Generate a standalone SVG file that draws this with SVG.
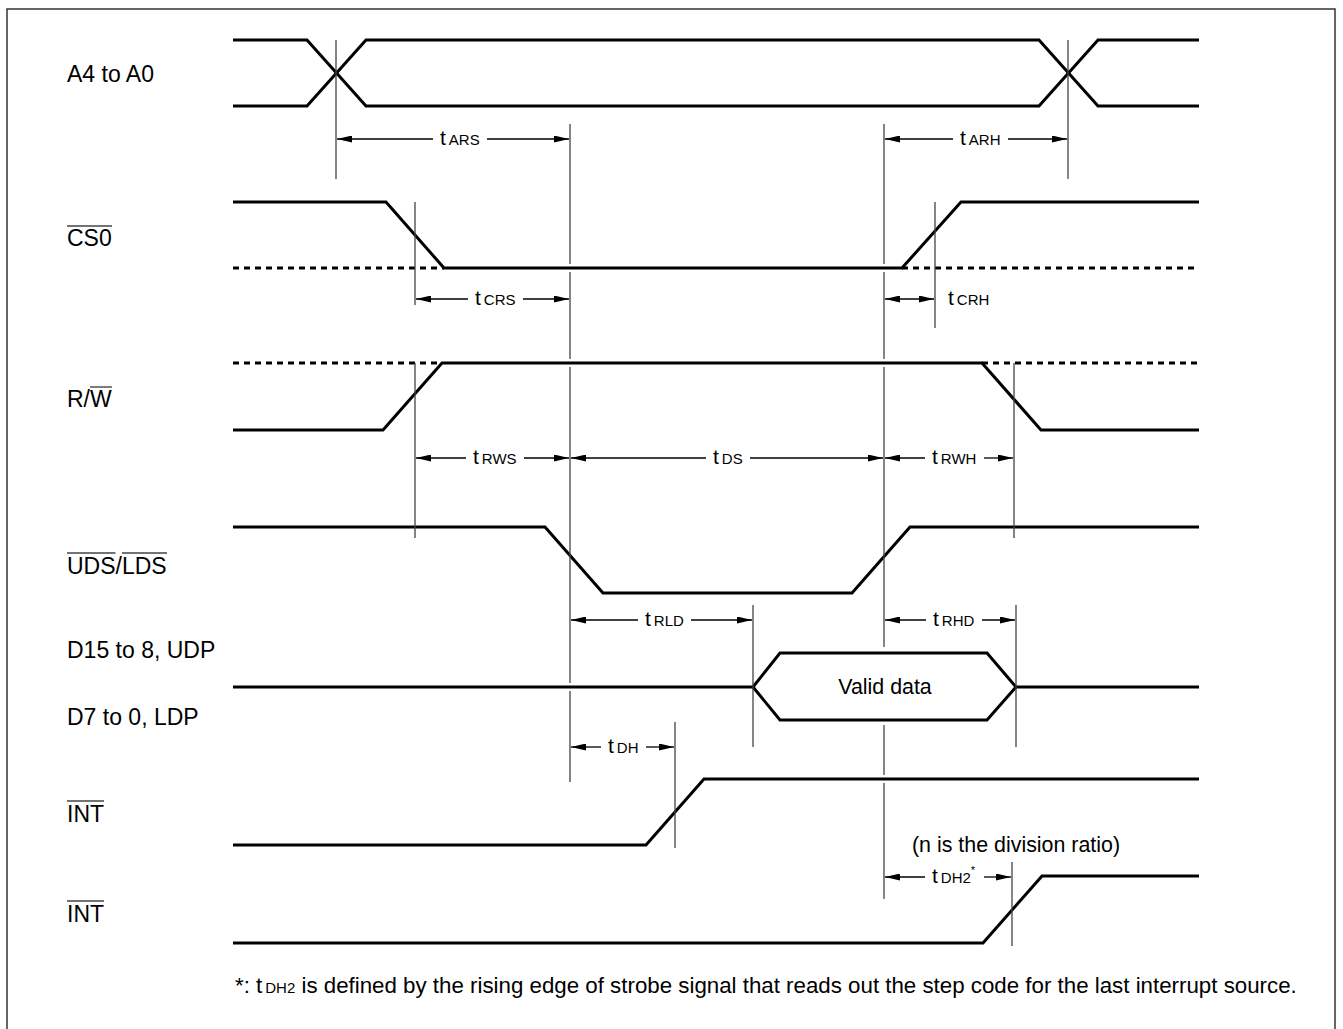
<svg xmlns="http://www.w3.org/2000/svg" width="1343" height="1029" viewBox="0 0 1343 1029">
<defs>
<marker id="ah" markerWidth="15" markerHeight="7" refX="15" refY="3.5" orient="auto-start-reverse" markerUnits="userSpaceOnUse">
<path d="M0,0 L15,3.5 L0,7 Z" fill="#000"/>
</marker>
</defs>
<style>
.sig{fill:none;stroke:#000;stroke-width:3;stroke-linejoin:miter}
.dash{fill:none;stroke:#000;stroke-width:3;stroke-dasharray:6 5}
.ref{fill:none;stroke:#444;stroke-width:1.3}
.dim{fill:none;stroke:#000;stroke-width:1.3}
.ol{fill:none;stroke:#444;stroke-width:1.4}
.lbl{font-family:"Liberation Sans",Arial,sans-serif;font-size:23px;fill:#000}
.note{font-family:"Liberation Sans",Arial,sans-serif;font-size:21.4px;fill:#000}
.foot{font-family:"Liberation Sans",Arial,sans-serif;font-size:22.3px;fill:#000}
.t{font-family:"Liberation Sans",Arial,sans-serif;font-size:21px;fill:#000}
.s{font-size:15px}
.frame{fill:none;stroke:#333;stroke-width:1.5}
</style>
<rect class="frame" x="7" y="9" width="1328" height="1040"/>

<g id="labels">
<text class="lbl" x="67" y="82">A4 to A0</text>
<text class="lbl" x="67" y="246">CS0</text>
<line class="ol" x1="67" y1="226" x2="112" y2="226"/>
<text class="lbl" x="67" y="407">R/W</text>
<line class="ol" x1="90" y1="387" x2="112" y2="387"/>
<text class="lbl" x="67" y="574">UDS/LDS</text>
<line class="ol" x1="67" y1="553" x2="115.5" y2="553"/>
<line class="ol" x1="122" y1="553" x2="167" y2="553"/>
<text class="lbl" x="67" y="658">D15 to 8, UDP</text>
<text class="lbl" x="67" y="725">D7 to 0, LDP</text>
<text class="lbl" x="67" y="822">INT</text>
<line class="ol" x1="67" y1="801" x2="104" y2="801"/>
<text class="lbl" x="67" y="922">INT</text>
<line class="ol" x1="67" y1="901" x2="104" y2="901"/>
</g>

<g id="signal-a">
<path class="sig" d="M233,40 H307 L366,106 H1039 L1098,40 H1199"/>
<path class="sig" d="M233,106 H307 L366,40 H1039 L1098,106 H1199"/>
</g>
<g id="signal-cs0">
<path class="dash" d="M233,268 H444"/>
<path class="dash" d="M902,268 H1199"/>
<path class="sig" d="M233,202 H386 L444,268 H902 L961,202 H1199"/>
</g>
<g id="signal-rw">
<path class="dash" d="M233,363 H442"/>
<path class="dash" d="M982,363 H1199"/>
<path class="sig" d="M233,430 H383 L442,363 H982 L1041,430 H1199"/>
</g>
<g id="signal-uds">
<path class="sig" d="M233,527 H545 L603,593 H852 L910,527 H1199"/>
</g>
<g id="signal-data">
<path class="sig" d="M233,687 H753 L780,653 H987 L1016,687 H1199"/>
<path class="sig" d="M753,687 L780,720 H987 L1016,687"/>
<text class="note" x="885" y="694" text-anchor="middle">Valid data</text>
</g>
<g id="signal-int1">
<path class="sig" d="M233,845 H646 L704,779 H1199"/>
</g>
<g id="signal-int2">
<path class="sig" d="M233,943 H983 L1042,876 H1199"/>
</g>

<g id="connectors">
<path class="ref" d="M336,40 V179 M1068,40 V179
M570,124 V264 M570,272 V359 M570,367 V683 M570,691 V782
M884,124 V264 M884,272 V359 M884,367 V647 M884,725 V775 M884,783 V899
M415,202 V305 M415,363 V538 M935,202 V328 M1014,363 V538
M753,605 V747 M1016,605 V747 M675,722 V848 M1012,862 V946"/>

<path class="dim" d="M337,139 H433" marker-start="url(#ah)"/>
<path class="dim" d="M487,139 H569" marker-end="url(#ah)"/>
<text class="t" x="440" y="145">t<tspan class="s" dx="3">ARS</tspan></text>

<path class="dim" d="M885,139 H953" marker-start="url(#ah)"/>
<path class="dim" d="M1008,139 H1067" marker-end="url(#ah)"/>
<text class="t" x="960" y="145">t<tspan class="s" dx="3">ARH</tspan></text>

<path class="dim" d="M416,299 H468" marker-start="url(#ah)"/>
<path class="dim" d="M523,299 H569" marker-end="url(#ah)"/>
<text class="t" x="475" y="305">t<tspan class="s" dx="3">CRS</tspan></text>

<path class="dim" d="M885,299 H934" marker-start="url(#ah)" marker-end="url(#ah)"/>
<text class="t" x="948" y="305">t<tspan class="s" dx="3">CRH</tspan></text>

<path class="dim" d="M416,458 H466" marker-start="url(#ah)"/>
<path class="dim" d="M524,458 H569" marker-end="url(#ah)"/>
<text class="t" x="473" y="464">t<tspan class="s" dx="3">RWS</tspan></text>

<path class="dim" d="M571,458 H706" marker-start="url(#ah)"/>
<path class="dim" d="M750,458 H883" marker-end="url(#ah)"/>
<text class="t" x="713" y="464">t<tspan class="s" dx="3">DS</tspan></text>

<path class="dim" d="M885,458 H925" marker-start="url(#ah)"/>
<path class="dim" d="M984,458 H1013" marker-end="url(#ah)"/>
<text class="t" x="932" y="464">t<tspan class="s" dx="3">RWH</tspan></text>

<path class="dim" d="M571,620 H638" marker-start="url(#ah)"/>
<path class="dim" d="M691,620 H752" marker-end="url(#ah)"/>
<text class="t" x="645" y="626">t<tspan class="s" dx="3">RLD</tspan></text>

<path class="dim" d="M885,620 H926" marker-start="url(#ah)"/>
<path class="dim" d="M982,620 H1015" marker-end="url(#ah)"/>
<text class="t" x="933" y="626">t<tspan class="s" dx="3">RHD</tspan></text>

<path class="dim" d="M571,747 H601" marker-start="url(#ah)"/>
<path class="dim" d="M646,747 H674" marker-end="url(#ah)"/>
<text class="t" x="608" y="753">t<tspan class="s" dx="3">DH</tspan></text>

<path class="dim" d="M885,877 H925" marker-start="url(#ah)"/>
<path class="dim" d="M984,877 H1011" marker-end="url(#ah)"/>
<text class="t" x="932" y="883">t<tspan class="s" dx="3">DH2</tspan><tspan font-size="11" dy="-9">*</tspan></text>
</g>

<g id="notes">
<text class="note" x="912" y="852">(n is the division ratio)</text>
<text class="foot" x="235" y="993">*: t<tspan font-size="15" dx="3">DH2</tspan> is defined by the rising edge of strobe signal that reads out the step code for the last interrupt source.</text>
</g>
</svg>
